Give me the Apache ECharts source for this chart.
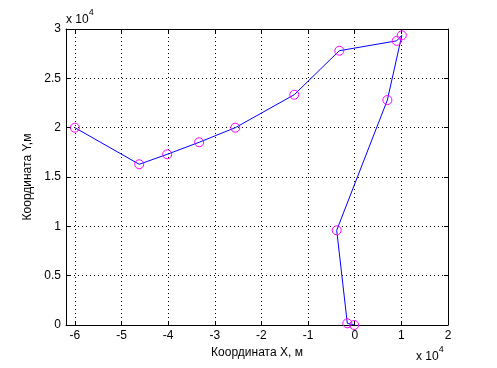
<!DOCTYPE html>
<html><head><meta charset="utf-8">
<script src="https://cdn.jsdelivr.net/npm/echarts@6/dist/echarts.min.js"></script>
<style>html,body{margin:0;padding:0;background:#fff}#c{width:497px;height:368px}</style>
</head><body><div id="c"></div>
<script>
// values in units of 10^4 m
const xValues = [-6.00, -4.62, -4.02, -3.335, -2.56, -1.296, -0.33, 0.90, 1.01, 0.70, -0.386, -0.159, -0.01];
const yValues = [2.00, 1.629, 1.73, 1.852, 2.00, 2.334, 2.78, 2.88, 2.936, 2.28, 0.96, 0.017, 0.0];
const xTicks = [-6, -5, -4, -3, -2, -1, 0, 1, 2];
const yTicks = [0, 0.5, 1, 1.5, 2, 2.5, 3];
const xTitle = 'Координата X, м';
const yTitle = 'Координата Y,м';

const font = 'Liberation Sans, Arial, sans-serif';
const chart = echarts.init(document.getElementById('c'), null, {renderer: 'canvas'});
const dotted = {color: '#000', width: 1, type: [1, 3]};
const baseAxis = {
  axisLine: {show: true, onZero: false, lineStyle: {color: '#000', width: 1}},
  axisTick: {show: true, inside: true, length: 4, lineStyle: {color: '#000'}},
  axisLabel: {color: '#000', fontSize: 12, fontFamily: font, margin: 5},
  splitLine: {show: false}
};
const xMin = -6.19, xMax = 2;
const option = {
  animation: false,
  backgroundColor: '#fff',
  grid: {left: 66, top: 29, width: 382, height: 296, containLabel: false},
  xAxis: [
    Object.assign({}, baseAxis, {
      type: 'value', min: xMin, max: xMax, position: 'bottom',
      axisTick: Object.assign({}, baseAxis.axisTick, {customValues: xTicks}),
      axisLabel: Object.assign({}, baseAxis.axisLabel, {customValues: xTicks, formatter: v => String(v)}),
      splitLine: {show: true, lineStyle: dotted},
      name: xTitle, nameLocation: 'middle', nameGap: 22,
      nameTextStyle: {color: '#000', fontSize: 12, fontFamily: font}
    }),
    Object.assign({}, baseAxis, {
      type: 'value', min: xMin, max: xMax, position: 'top',
      axisTick: Object.assign({}, baseAxis.axisTick, {customValues: xTicks}),
      axisLabel: {show: false}
    })
  ],
  yAxis: [
    Object.assign({}, baseAxis, {
      type: 'value', min: 0, max: 3, interval: 0.5, position: 'left',
      axisTick: Object.assign({}, baseAxis.axisTick, {customValues: yTicks}),
      axisLabel: Object.assign({}, baseAxis.axisLabel, {customValues: yTicks, formatter: v => String(v)}),
      splitLine: {show: true, lineStyle: dotted},
      name: yTitle, nameLocation: 'middle', nameGap: 28, nameRotate: 90,
      nameTextStyle: {color: '#000', fontSize: 12, fontFamily: font}
    }),
    Object.assign({}, baseAxis, {
      type: 'value', min: 0, max: 3, interval: 0.5, position: 'right',
      axisLabel: {show: false}
    })
  ],
  graphic: [
    {type: 'text', left: 66, top: 8, style: {
      text: '{b|x 10}{s|4}', rich: {
        b: {fontSize: 12, fontFamily: font, fill: '#000', padding: [6, 0, 0, 0]},
        s: {fontSize: 9, fontFamily: font, fill: '#000', verticalAlign: 'top'}
      }}},
    {type: 'text', left: 416, top: 345, style: {
      text: '{b|x 10}{s|4}', rich: {
        b: {fontSize: 12, fontFamily: font, fill: '#000', padding: [6, 0, 0, 0]},
        s: {fontSize: 9, fontFamily: font, fill: '#000', verticalAlign: 'top'}
      }}}
  ],
  series: [{
    type: 'line', xAxisIndex: 0, yAxisIndex: 0,
    data: xValues.map((x, i) => [x, yValues[i]]),
    symbol: 'circle', symbolSize: 9, showSymbol: true,
    lineStyle: {color: '#0000ff', width: 1},
    itemStyle: {color: 'rgba(0,0,0,0)', borderColor: '#ff00ff', borderWidth: 1},
    emphasis: {disabled: true}
  }]
};
chart.setOption(option);
</script></body></html>
